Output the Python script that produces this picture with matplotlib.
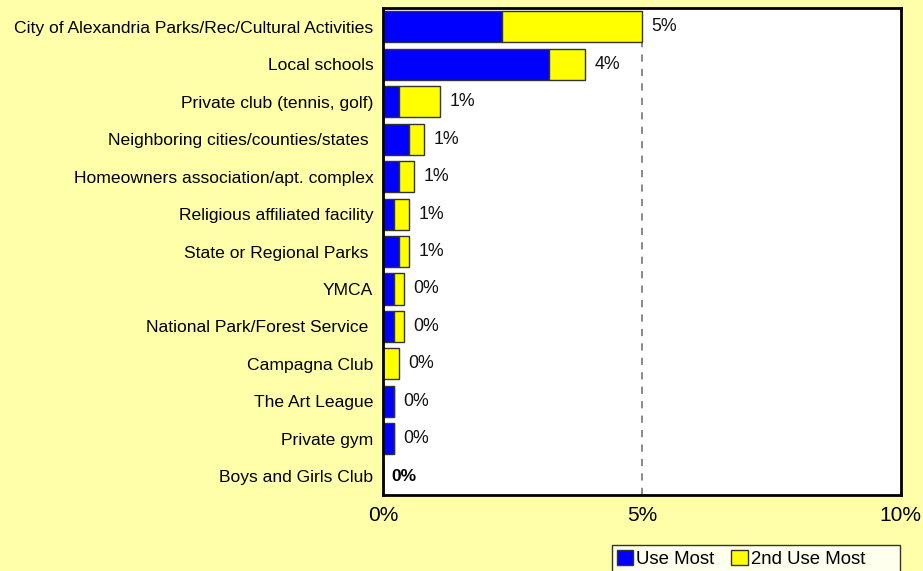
import numpy as np
import matplotlib.pyplot as plt

plt.rcParams['font.family'] = ['Liberation Sans', 'DejaVu Sans']

categories = ['City of Alexandria Parks/Rec/Cultural Activities', 'Local schools',
              'Private club (tennis, golf)', 'Neighboring cities/counties/states ',
              'Homeowners association/apt. complex', 'Religious affiliated facility',
              'State or Regional Parks ', 'YMCA', 'National Park/Forest Service ',
              'Campagna Club', 'The Art League', 'Private gym', 'Boys and Girls Club']
use_most = [2.3, 3.2, 0.31, 0.51, 0.31, 0.21, 0.31, 0.21, 0.21, 0.0, 0.21, 0.21, 0.0]
second_most = [2.7, 0.7, 0.79, 0.29, 0.29, 0.30, 0.20, 0.19, 0.19, 0.31, 0.0, 0.0, 0.0]
labels = ['5%', '4%', '1%', '1%', '1%', '1%', '1%', '0%', '0%', '0%', '0%', '0%', '0%']

bg = '#FFFFAA'
fig = plt.figure(figsize=(9.23, 5.71), dpi=100, facecolor=bg)
ax = fig.add_axes([0.415, 0.133, 0.561, 0.853])
ax.set_facecolor('white')

y = np.arange(len(categories))
um = np.array(use_most)
sm = np.array(second_most)
h = 0.83
ax.barh(y, um, height=h, color='#0000FF', edgecolor='#333333', linewidth=1, label='Use Most')
ax.barh(y, sm, left=um, height=h, color='#FFFF00', edgecolor='#333333', linewidth=1,
        label='2nd Use Most      ')

for i, lab in enumerate(labels):
    tot = um[i] + sm[i]
    if tot == 0:
        ax.text(0.16, i, lab, va='center', ha='left', fontsize=12.5, fontweight='bold')
    else:
        ax.text(tot + 0.18, i, lab, va='center', ha='left', fontsize=12.8, color='#111111')

ax.axvline(5, color='#808080', linestyle=(0, (4, 4)), linewidth=1.3, zorder=0)

ax.set_xlim(0, 10)
ax.set_ylim(len(categories) - 0.5, -0.5)
ax.set_xticks([0, 5, 10])
ax.set_xticklabels(['0%', '5%', '10%'], fontsize=15)
ax.tick_params(axis='x', length=0, pad=8)
ax.set_yticks(y)
ax.set_yticklabels(categories, fontsize=12.6)
ax.tick_params(axis='y', length=0, pad=7)
for s in ax.spines.values():
    s.set_linewidth(2)
    s.set_color('black')

leg = ax.legend(loc='upper left', bbox_to_anchor=(0.663, 0.0455), bbox_transform=fig.transFigure,
                ncol=2, frameon=True, fancybox=False, fontsize=13.4, handlelength=0.9,
                handleheight=0.9, handletextpad=0.15, columnspacing=0.9, borderpad=0.25,
                borderaxespad=0)
leg.get_frame().set_edgecolor('black')
leg.get_frame().set_linewidth(1)

fig.savefig('out.png', dpi=100, facecolor=bg)
